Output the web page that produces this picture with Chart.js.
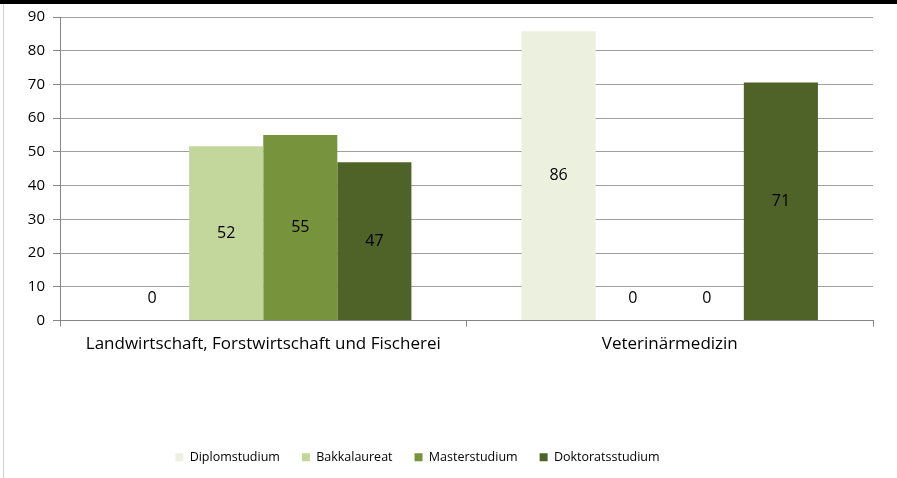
<!DOCTYPE html>
<html>
<head>
<meta charset="utf-8">
<script src="https://cdn.jsdelivr.net/npm/chart.js@4/dist/chart.umd.min.js"></script>
<style>
  html, body { margin: 0; padding: 0; background: #fff; }
  #wrap { width: 897px; height: 478px; position: relative; }
</style>
</head>
<body>
<div id="wrap"><canvas id="chart" width="897" height="478"></canvas></div>
<script>
const categories = ['Landwirtschaft, Forstwirtschaft und Fischerei', 'Veterinärmedizin'];
const seriesNames = ['Diplomstudium', 'Bakkalaureat', 'Masterstudium', 'Doktoratsstudium'];
const diplom = [0, 85.8];
const bakk = [51.7, 0];
const master = [55, 0];
const doktorat = [46.9, 70.6];
const yTicks = [0, 10, 20, 30, 40, 50, 60, 70, 80, 90];

const colors = ['#ebf0df', '#c3d69b', '#77933c', '#4f6228'];
const FONT = '"Open Sans", Lato, sans-serif';

// frame: black top bar + light left edge
const framePlugin = {
    id: 'frame',
    beforeDraw(chart) {
        const ctx = chart.ctx;
        ctx.save();
        ctx.fillStyle = '#fff';
        ctx.fillRect(0, 0, chart.width, chart.height);
        ctx.fillStyle = '#000';
        ctx.fillRect(0, 0, chart.width, 4);
        ctx.fillStyle = '#cfcfcf';
        ctx.fillRect(3, 4, 1, chart.height - 4);
        ctx.restore();
    }
};

// value labels in the middle of each bar, zeros just above the axis
const valueLabels = {
    id: 'valueLabels',
    afterDatasetsDraw(chart) {
        const ctx = chart.ctx;
        ctx.save();
        ctx.font = '16px ' + FONT;
        ctx.fillStyle = '#000';
        ctx.textAlign = 'center';
        ctx.textBaseline = 'middle';
        chart.data.datasets.forEach((ds, i) => {
            chart.getDatasetMeta(i).data.forEach((bar, j) => {
                const v = ds.data[j];
                const y = v === 0 ? bar.base - 22 : (bar.y + bar.base) / 2;
                ctx.fillText(String(Math.round(v)), bar.x, y);
            });
        });
        ctx.restore();
    }
};

// Excel put the legend a bit left of centre
const legendShift = {
    id: 'legendShift',
    afterLayout(chart) {
        const lg = chart.legend;
        if (lg) { lg.left -= 19; lg.right -= 19; }
    }
};

const seriesData = [diplom, bakk, master, doktorat];

new Chart(document.getElementById('chart'), {
    type: 'bar',
    data: {
        labels: categories,
        datasets: seriesNames.map((name, i) => ({
            label: name,
            data: seriesData[i],
            backgroundColor: colors[i],
            borderWidth: 0,
            categoryPercentage: 0.729,
            barPercentage: 1
        }))
    },
    options: {
        responsive: false,
        animation: false,
        layout: { padding: { left: 0, right: 24, top: 17, bottom: 4.5 } },
        plugins: {
            tooltip: { enabled: false },
            legend: {
                position: 'bottom',
                labels: {
                    boxWidth: 8,
                    boxHeight: 8,
                    padding: 22,
                    color: '#000',
                    font: { family: FONT, size: 12.5 }
                }
            }
        },
        scales: {
            x: {
                afterFit(scale) { scale.height = 108.5; },
                grid: {
                    display: true,
                    offset: true,
                    drawOnChartArea: false,
                    tickLength: 6,
                    color: '#868686'
                },
                border: { color: '#868686', width: 1 },
                ticks: { color: '#000', padding: 7, font: { family: FONT, size: 17 }, maxRotation: 0 }
            },
            y: {
                min: 0,
                max: 90,
                afterFit(scale) { scale.width = 60; },
                afterBuildTicks(scale) { scale.ticks = yTicks.map(v => ({ value: v })); },
                grid: { color: '#a0a0a0', tickLength: 7, tickColor: '#868686' },
                border: { color: '#868686', width: 1 },
                ticks: { color: '#000', padding: 8, font: { family: FONT, size: 15 } }
            }
        }
    },
    plugins: [framePlugin, valueLabels, legendShift]
});
</script>
</body>
</html>
